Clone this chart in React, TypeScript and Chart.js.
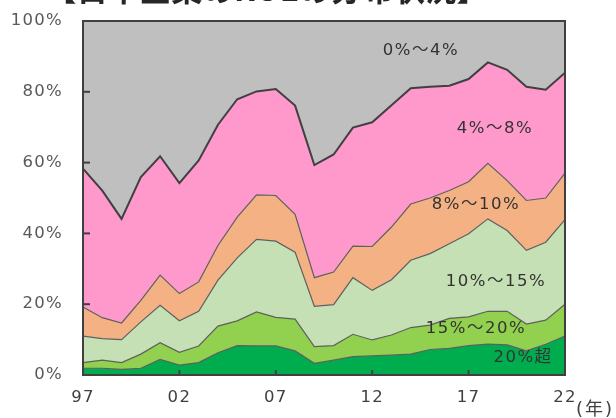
import React, { useEffect, useRef } from "react";
import { Chart, registerables } from "chart.js";

Chart.register(...registerables);

const years = ["97","98","99","00","01","02","03","04","05","06","07","08","09","10","11","12","13","14","15","16","17","18","19","20","21","22"];
const tickYears = ["97", "02", "07", "12", "17", "22"];

const over20 = [1.9,1.9,1.6,1.9,4.4,2.8,3.5,6.3,8.3,8.2,8.2,6.8,3.3,4.2,5.2,5.4,5.6,5.9,7.2,7.5,8.3,8.7,8.5,6.8,8.7,11.0];
const r15to20 = [1.6,2.3,1.9,4.0,4.7,3.6,4.7,7.5,7.0,9.6,8.1,9.0,4.7,4.1,6.3,4.5,5.7,7.5,6.9,8.5,8.1,9.3,9.5,7.6,6.8,9.0];
const r10to15 = [7.5,6.1,6.5,9.1,10.6,8.9,9.8,13.0,17.8,20.5,21.5,18.9,11.4,11.6,16.0,14.0,15.6,19.0,20.2,21.1,23.5,26.1,22.8,20.8,22.0,23.9];
const r8to10 = [8.2,5.9,4.7,6.1,8.5,7.7,8.3,9.8,11.5,12.6,12.9,10.7,8.1,9.2,8.9,12.4,14.9,15.9,15.7,15.0,14.7,15.7,14.1,14.1,12.5,13.1];
const r4to8 = [39.1,35.9,29.4,34.8,33.6,31.2,34.3,34.1,33.3,29.2,30.1,30.7,31.8,33.2,33.5,35.1,34.4,32.7,31.4,29.6,29.0,28.5,31.3,32.1,30.6,28.4];
const r0to4 = [41.7,47.9,55.9,44.1,38.2,45.8,39.4,29.3,22.1,19.9,19.2,23.9,40.7,37.7,30.1,28.6,23.8,19.0,18.6,18.3,16.4,11.7,13.8,18.6,19.4,14.6];

const seriesNames = ["20%超", "15%～20%", "10%～15%", "8%～10%", "4%～8%", "0%～4%"];
const yTicks = [0, 20, 40, 60, 80, 100];

const FONT = '"DejaVu Sans", "Noto Sans CJK JP", sans-serif';

const decorPlugin = {
  id: "decor",
  beforeDraw(chart: any) {
    chart.ctx.letterSpacing = "1.3px";
  },
  afterDraw(chart: any) {
    const { ctx, chartArea, scales } = chart;
    const { left, right, top, bottom } = chartArea;
    ctx.save();
    ctx.letterSpacing = "0px";
    ctx.fillStyle = "#404040";
    const w = right - left;
    const h = bottom - top;
    ctx.fillRect(left - 1, top - 1, w + 2, 2);
    ctx.fillRect(left - 1, bottom - 1, w + 2, 2);
    ctx.fillRect(left - 1, top - 1, 2, h + 2);
    ctx.fillRect(right - 1, top - 1, 2, h + 2);
    yTicks.forEach((v) => {
      const y = scales.y.getPixelForValue(v);
      ctx.fillRect(left, y - 1, 7, 2);
    });
    tickYears.forEach((yr) => {
      const x = scales.x.getPixelForValue(years.indexOf(yr));
      ctx.fillRect(x - 1, bottom - 5, 2, 5);
    });
    ctx.letterSpacing = "1.5px";
    ctx.fillStyle = "#333333";
    ctx.font = `16.5px ${FONT}`;
    ctx.textAlign = "center";
    ctx.textBaseline = "middle";
    const labelPos: [string, number, number][] = [
      [seriesNames[5], 421, 51],
      [seriesNames[4], 495, 129],
      [seriesNames[3], 476, 205],
      [seriesNames[2], 496, 282],
      [seriesNames[1], 476, 329],
      [seriesNames[0], 523, 358],
    ];
    labelPos.forEach(([t, x, y]) => ctx.fillText(t, x, y));
    ctx.textAlign = "left";
    ctx.fillStyle = "#404040";
    ctx.font = `18px ${FONT}`;
    ctx.letterSpacing = "2px";
    ctx.fillText("(年)", 576, 410);
    ctx.restore();
  },
};

export default function App() {
  const ref = useRef<HTMLCanvasElement>(null);
  useEffect(() => {
    if (!ref.current) return;
    const colors = ["#00AD4E", "#92D050", "#C5E0B4", "#F4B183", "#FF99CC", "#BFBFBF"];
    const values = [over20, r15to20, r10to15, r8to10, r4to8, r0to4];
    const chart = new Chart(ref.current, {
      type: "line",
      data: {
        labels: years,
        datasets: values.map((d, i) => ({
          label: seriesNames[i],
          data: d,
          backgroundColor: colors[i],
          borderColor: i === 4 || i === 5 ? "#404040" : "#5f5f5f",
          borderWidth: i === 4 || i === 5 ? 2 : 1.2,
          fill: i === 0 ? "origin" : "-1",
          pointRadius: 0,
          tension: 0,
        })),
      },
      options: {
        animation: false,
        responsive: false,
        devicePixelRatio: 1,
        layout: { padding: { left: 0, right: 51, top: 21, bottom: 0 } },
        plugins: {
          legend: { display: false },
          tooltip: { enabled: false },
          filler: { drawTime: "beforeDatasetsDraw" },
        } as any,
        scales: {
          x: {
            offset: false,
            grid: { display: false, drawTicks: false },
            border: { display: false },
            ticks: {
              autoSkip: false,
              maxRotation: 0,
              padding: 13,
              color: "#404040",
              font: { family: FONT, size: 16.5 },
              callback: (v: any, i: number) => (tickYears.includes(years[i]) ? years[i] : ""),
            },
            afterFit: (s: any) => { s.height = 43; s.paddingLeft = 0; s.paddingRight = 0; },
          },
          y: {
            stacked: true,
            min: 0,
            max: 100,
            grid: { display: false, drawTicks: false },
            border: { display: false },
            ticks: {
              stepSize: 20,
              padding: 20,
              color: "#595959",
              font: { family: FONT, size: 16.5 },
              callback: (v: any) => v + "%",
            },
            afterFit: (s: any) => { s.width = 83; s.paddingTop = 0; s.paddingBottom = 0; },
          },
        },
      } as any,
      plugins: [decorPlugin],
    });
    return () => chart.destroy();
  }, []);
  return (
    <div style={{ position: "absolute", left: 0, top: 0, width: 616, height: 418, overflow: "hidden", background: "#fff" }}>
      <canvas ref={ref} width={616} height={418} style={{ position: "absolute", left: 0, top: 0 }} />
      <div style={{ position: "absolute", left: 45, top: -28, font: 'bold 31.5px "Noto Sans CJK JP", sans-serif', lineHeight: "31.5px", color: "#262626", whiteSpace: "nowrap" }}>
        【日本企業のROEの分布状況】
      </div>
    </div>
  );
}
